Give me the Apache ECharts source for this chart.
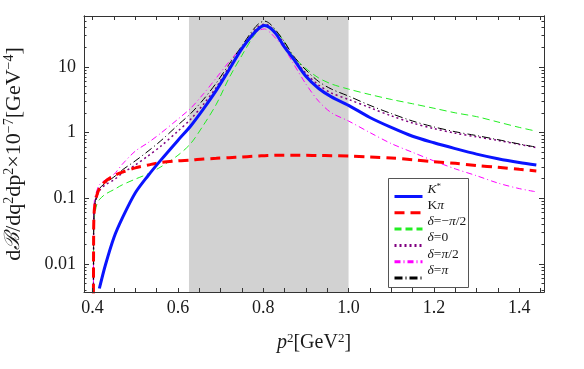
<!DOCTYPE html>
<html>
<head>
<meta charset="utf-8">
<script src="https://cdn.jsdelivr.net/npm/echarts@6/dist/echarts.min.js"></script>
<style>
html, body { margin: 0; padding: 0; background: #fff; }
#chart { width: 584px; height: 369px; }
</style>
</head>
<body>
<div id="chart"></div>
<script>
// p^2 grid (GeV^2) shared by all curves
const p2 = [0.402, 0.4025, 0.403, 0.405, 0.41, 0.416, 0.43, 0.45, 0.47, 0.5, 0.53, 0.56, 0.6, 0.63, 0.66, 0.69, 0.72, 0.75, 0.775, 0.79, 0.803, 0.815, 0.83, 0.85, 0.87, 0.9, 0.93, 0.96, 1.0, 1.05, 1.1, 1.15, 1.2, 1.25, 1.3, 1.35, 1.4, 1.44];

const kstar = [null, null, null, null, null, 0.0042, 0.0095, 0.025, 0.05, 0.12, 0.22, 0.38, 0.76, 1.26, 2.3, 4.4, 9.1, 19, 31, 39, 43, 40, 32, 20, 13.5, 7.2, 4.7, 3.5, 2.6, 1.7, 1.2, 0.88, 0.7, 0.57, 0.47, 0.4, 0.35, 0.32];
const kpi = [0.002, 0.02, 0.045, 0.075, 0.11, 0.14, 0.18, 0.22, 0.25, 0.29, 0.32, 0.35, 0.37, 0.38, 0.395, 0.405, 0.415, 0.425, 0.435, 0.44, 0.445, 0.447, 0.45, 0.45, 0.45, 0.45, 0.448, 0.445, 0.44, 0.425, 0.41, 0.385, 0.36, 0.34, 0.315, 0.295, 0.275, 0.26];
const dMinusHalfPi = [0.002, 0.015, 0.035, 0.055, 0.08, 0.095, 0.115, 0.135, 0.16, 0.195, 0.235, 0.3, 0.45, 0.68, 1.3, 2.7, 6.8, 15, 28, 37, 42, 41, 35, 24, 14.5, 9.5, 6.8, 5.5, 4.6, 3.8, 3.2, 2.75, 2.35, 2.0, 1.75, 1.45, 1.2, 1.05];
const dZero = [0.002, 0.02, 0.045, 0.075, 0.105, 0.13, 0.16, 0.19, 0.24, 0.32, 0.44, 0.62, 1.05, 1.6, 2.7, 4.9, 10, 19, 33, 42, 45, 42, 33, 22, 14, 8, 5.3, 4.0, 3.2, 2.4, 1.8, 1.4, 1.15, 0.98, 0.86, 0.76, 0.66, 0.59];
const dHalfPi = [0.002, 0.03, 0.06, 0.1, 0.13, 0.16, 0.19, 0.23, 0.33, 0.52, 0.7, 0.98, 1.6, 2.35, 3.9, 6.8, 12, 20, 30, 36, 38, 34, 27, 19, 11.5, 5.5, 3.0, 2.0, 1.5, 1.0, 0.68, 0.5, 0.37, 0.28, 0.22, 0.17, 0.14, 0.125];
const dPi = [0.002, 0.02, 0.05, 0.08, 0.11, 0.14, 0.17, 0.21, 0.27, 0.37, 0.52, 0.75, 1.3, 1.95, 3.2, 5.7, 11, 21, 36, 46, 50, 46, 36, 24, 15, 9, 6, 4.6, 3.6, 2.6, 1.95, 1.5, 1.22, 1.03, 0.9, 0.78, 0.67, 0.6];

// shaded window
const band = [0.626, 1.0];

// ticks
const xLabels = [0.4, 0.6, 0.8, 1.0, 1.2, 1.4];
const xMinor = [0.4, 0.45, 0.5, 0.55, 0.6, 0.65, 0.7, 0.75, 0.8, 0.85, 0.9, 0.95, 1.0, 1.05, 1.1, 1.15, 1.2, 1.25, 1.3, 1.35, 1.4, 1.45];
const yLabels = [0.01, 0.1, 1, 10];
const yMinor = [0.004, 0.005, 0.006, 0.007, 0.008, 0.009, 0.02, 0.03, 0.04, 0.05, 0.06, 0.07, 0.08, 0.09, 0.2, 0.3, 0.4, 0.5, 0.6, 0.7, 0.8, 0.9, 2, 3, 4, 5, 6, 7, 8, 9, 20, 30, 40, 50];

const xMin = 0.38, xMax = 1.458;
const yMin = -2.43, yMax = 1.777; // log10 of the plotted range

const lg = v => Math.log10(v);
const pairs = arr => p2.map((x, i) => arr[i] == null ? [x, null] : [x, lg(arr[i])]);

const serif = 'Liberation Serif, Times New Roman, serif';
const frame = '#333';
const ink = '#1a1a1a';

let xAxisOf = (pos, ticks, len, labels) => ({
    type: 'value', position: pos, min: xMin, max: xMax, z: 10,
    axisLine: { show: true, onZero: false, lineStyle: { color: frame, width: 1 } },
    axisTick: { show: true, inside: true, length: len, customValues: ticks, lineStyle: { color: frame } },
    axisLabel: labels ? {
        show: true, customValues: xLabels, margin: 7,
        formatter: v => v.toFixed(1),
        fontFamily: serif, fontSize: 18, color: ink
    } : { show: false },
    splitLine: { show: false }
});

let yAxisOf = (pos, ticks, len, labels) => ({
    type: 'value', position: pos, min: yMin, max: yMax, z: 10,
    axisLine: { show: true, onZero: false, lineStyle: { color: frame, width: 1 } },
    axisTick: { show: true, inside: true, length: len, customValues: ticks.map(lg), lineStyle: { color: frame } },
    axisLabel: labels ? {
        show: true, customValues: yLabels.map(lg), margin: 8,
        formatter: v => String(+Math.pow(10, v).toPrecision(1)),
        fontFamily: serif, fontSize: 18, color: ink
    } : { show: false },
    splitLine: { show: false }
});

const legendNames = {
    'Kstar': '{i|K}{sup|*}',
    'Kpi': '{n|K}{i|π}',
    'dm': '{i|δ}{n|=−}{i|π}{n|/2}',
    'd0': '{i|δ}{n|=0}',
    'dp2': '{i|δ}{n|=}{i|π}{n|/2}',
    'dp': '{i|δ}{n|=}{i|π}'
};

var dom = document.getElementById('chart');
var chart = echarts.init(dom, null, { renderer: 'canvas' });

let xMajorBottom = xAxisOf('bottom', xMinor, 4, true);
xMajorBottom.name = '{i|p}{sup|2}{n|[GeV}{sup|2}{n|]}';
xMajorBottom.nameLocation = 'middle';
xMajorBottom.nameGap = 40;
xMajorBottom.nameTextStyle = {
    fontFamily: serif, fontSize: 20, color: ink,
    rich: {
        i: { fontFamily: serif, fontSize: 20, fontStyle: 'italic', color: ink },
        n: { fontFamily: serif, fontSize: 20, color: ink },
        sup: { fontFamily: serif, fontSize: 13, color: ink, verticalAlign: 'top', padding: [0, 0, 9, 0] }
    }
};

let yMajorLeft = yAxisOf('left', yLabels, 5, true);
yMajorLeft.name = '{n|d}{b|ℬ}{n|/dq}{sup|2}{n|dp}{sup|2}{n|×10}{sup|−7}{n|[GeV}{sup|−4}{n|]}';
yMajorLeft.nameLocation = 'middle';
yMajorLeft.nameRotate = 90;
yMajorLeft.nameGap = 58;
yMajorLeft.nameTextStyle = {
    fontFamily: serif, fontSize: 22, color: ink,
    rich: {
        n: { fontFamily: serif, fontSize: 22, color: ink },
        b: { fontFamily: 'DejaVu Serif', fontSize: 21, fontStyle: 'italic', color: ink },
        sup: { fontFamily: serif, fontSize: 14, color: ink, verticalAlign: 'top', padding: [0, 0, 10, 0] }
    }
};

let lineSeries = (name, arr, color, width, type, z) => ({
    name, type: 'line', data: pairs(arr), symbol: 'none', smooth: 0.3, z,
    xAxisIndex: 0, yAxisIndex: 0, clip: true, connectNulls: false,
    lineStyle: { color, width, type },
    itemStyle: { color }
});

var option = {
    animation: false,
    backgroundColor: '#fff',
    grid: { left: 84, right: 40, top: 16, bottom: 77, outerBoundsMode: 'none', containLabel: false },
    xAxis: [
        xMajorBottom,
        xAxisOf('top', xMinor, 4, false)
    ],
    yAxis: [
        yMajorLeft,
        yAxisOf('left', yMinor, 2.5, false),
        yAxisOf('right', yLabels, 5, false),
        yAxisOf('right', yMinor, 2.5, false)
    ],
    graphic: [{
        type: 'rect', left: 388, top: 178, z: 19,
        shape: { width: 80, height: 109 },
        style: { fill: '#fff', stroke: '#555', lineWidth: 1 }
    }],
    legend: {
        data: ['Kstar', 'Kpi', 'dm', 'd0', 'dp2', 'dp'],
        orient: 'vertical',
        left: 393, top: 182,
        padding: 0,
        itemGap: -2.2,
        itemWidth: 28, itemHeight: 10,
        lineStyle: { width: 3 },
        itemStyle: { opacity: 0, borderWidth: 0 },
        formatter: n => legendNames[n],
        textStyle: {
            fontFamily: serif, fontSize: 13.5, color: ink,
            padding: [0, 0, 15, 0],
            rich: {
                i: { fontFamily: serif, fontSize: 13.5, fontStyle: 'italic', color: ink },
                n: { fontFamily: serif, fontSize: 13.5, color: ink },
                sup: { fontFamily: serif, fontSize: 9, color: ink, verticalAlign: 'top' }
            }
        },
        z: 20
    },
    series: [
        {
            name: 'band', type: 'line', data: [], z: 1, silent: true,
            markArea: {
                silent: true,
                itemStyle: { color: '#d2d2d2' },
                data: [[{ xAxis: band[0] }, { xAxis: band[1] }]]
            }
        },
        lineSeries('dm', dMinusHalfPi, '#22ee22', 1, [7, 4], 3),
        lineSeries('d0', dZero, '#800080', 1.5, [2, 3], 3),
        lineSeries('dp2', dHalfPi, '#ff00ff', 1, [6, 3, 1, 3], 3),
        lineSeries('dp', dPi, '#000000', 1, [8, 3, 1, 3], 3),
        lineSeries('Kpi', kpi, '#ff0000', 3, [10, 6], 4),
        lineSeries('Kstar', kstar, '#0a14ff', 3, 'solid', 5)
    ]
};

chart.setOption(option);
window.addEventListener('resize', chart.resize);
</script>
</body>
</html>
